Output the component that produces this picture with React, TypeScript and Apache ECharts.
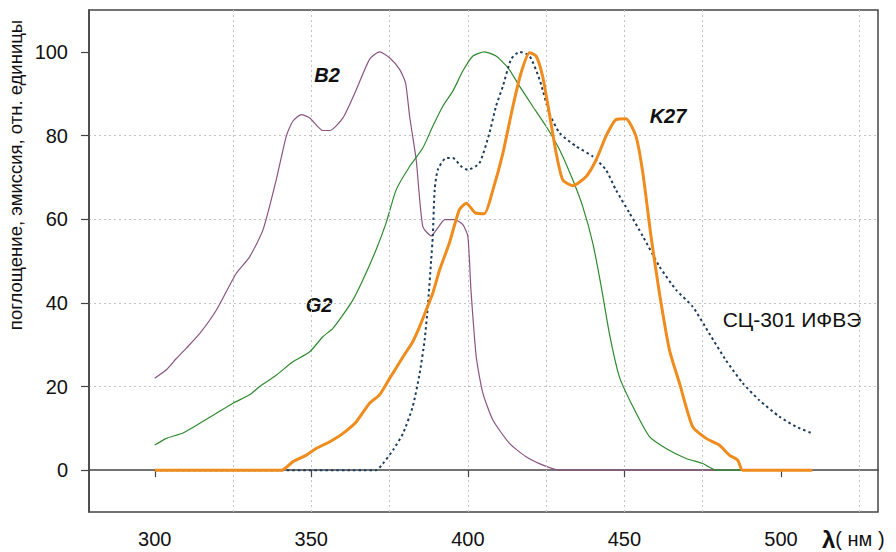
import React, { useEffect, useRef } from "react";
import * as echarts from "echarts";

// Wavelength axis ticks and labels (nm)
const xLabelTicks = [300, 350, 400, 450, 500];
// Intermediate wavelength grid lines (nm)
const xMidGrid = [325, 375, 425, 475, 525];
// Intensity axis ticks and labels (relative units)
const yLabelTicks = [0, 20, 40, 60, 80, 100];

// B2 absorption
const b2Lambda = [300, 303.7, 306.9, 310, 314.4, 319.7, 326, 330.3, 334.6, 338.8, 342, 344.1, 346.8, 349.5, 353.7, 355.9, 360.1, 364.4, 368.6, 371.8, 375, 378.2, 380.1, 381.4, 383.5, 385.6, 388.3, 390.4, 392.6, 395.7, 398.4, 400, 401, 402.7, 404.8, 408, 413.3, 418.6, 424, 429.3, 480];
const b2Values = [22, 24, 26.7, 29.1, 32.7, 38.3, 47, 51, 57.5, 69.4, 79.8, 83.4, 85, 84.2, 81.2, 81.2, 84.2, 91, 98.2, 100, 98.6, 95.8, 92.6, 84.6, 74.2, 58.3, 56, 57.9, 59.9, 59.9, 58.7, 55.9, 43, 27, 18.4, 12, 6.4, 3.2, 1.2, 0, 0];

// G2
const g2Lambda = [300, 303.7, 309, 314.4, 319.7, 325, 330.3, 333.5, 338.8, 344.1, 349.5, 353.7, 356.9, 360.1, 363.3, 366.5, 370.7, 373.9, 377.1, 381.4, 385.6, 388.8, 392, 395.2, 398.4, 401.6, 405.3, 409, 412.8, 416.5, 420.7, 425, 429.3, 433.5, 436.7, 439.9, 442.6, 445.2, 448.4, 452.7, 458, 463.3, 469.7, 475, 479.3, 488];
const g2Values = [6, 7.6, 8.9, 11.2, 13.6, 16, 18, 20, 22.7, 25.9, 28.3, 31.9, 33.9, 37.1, 40.7, 45.5, 52.7, 59.1, 67, 72.6, 77, 82.2, 87, 90.6, 95.4, 99, 100, 99, 96.2, 91.8, 87, 82.2, 76.6, 69.4, 63, 54.3, 43.9, 32.7, 22.3, 15.2, 8, 5.2, 2.8, 1.6, 0, 0];

// СЦ-301 ИФВЭ scintillator emission
const scLambda = [300, 370.7, 372.9, 376.1, 379.3, 382.4, 384.6, 386.2, 387.2, 388.3, 388.8, 389.4, 390.4, 393, 395.2, 397.9, 400, 403.7, 406.9, 409, 411.2, 413.8, 416.5, 419.7, 422.9, 426, 429.3, 434.6, 439.9, 444.1, 447.3, 451.6, 455.9, 461.2, 466.5, 471.8, 477.1, 482.4, 487.8, 493, 499.5, 504.8, 510];
const scValues = [0, 0, 1.6, 4.8, 8.8, 15.2, 23.1, 31.1, 39.1, 50.3, 55.9, 67, 71.8, 74.6, 74.6, 72.6, 71.8, 73.4, 80.6, 87, 91.8, 98.2, 100, 99, 93.4, 85.4, 80.6, 77.4, 75, 71.8, 67, 61.5, 55.9, 48.7, 43.1, 39.1, 32.7, 26.3, 20.8, 16.8, 12.8, 10.4, 8.8];

// K27
const k27Lambda = [300, 340.4, 344.1, 348.4, 351.6, 355.9, 360.1, 364.4, 368.6, 371.8, 375, 379.3, 382.4, 384.6, 386.7, 388.8, 391, 394.1, 397.3, 399.5, 402.4, 405.3, 408, 411.2, 414.4, 417, 419.7, 421.8, 423.9, 426, 428.2, 430.3, 433.5, 437.8, 441, 444.1, 447.3, 450.5, 453.7, 455.9, 458.5, 461.2, 464.4, 467.6, 471.8, 476.1, 480.3, 483.5, 486.2, 487.8, 510];
const k27Values = [0, 0, 2, 3.6, 5.2, 6.8, 8.8, 11.6, 16, 18, 21.9, 27.1, 30.7, 34.3, 38.3, 42.3, 47.9, 54.3, 62.3, 63.8, 61.5, 61.3, 67, 75.8, 87, 95, 99.8, 99, 94.1, 85.4, 75.8, 69.4, 68, 70.2, 74.2, 79.8, 83.8, 84, 79.8, 71, 55.9, 42.3, 28.7, 20.8, 10.4, 7.6, 6, 3.6, 2.4, 0, 0];

const zip = (xs: number[], ys: number[]) => xs.map((x, i) => [x, ys[i]]);

const FONT = "'Liberation Sans', Arial, sans-serif";
const GRID_STYLE = { color: "#c4c4c4", width: 1, type: [2, 3] };

export default function App() {
  const ref = useRef<HTMLDivElement>(null);

  useEffect(() => {
    if (!ref.current) return;
    const chart = echarts.init(ref.current, null, { renderer: "svg" });
    const gridLine = { show: true, showMinLine: false, showMaxLine: false, lineStyle: GRID_STYLE };
    chart.setOption({
      animation: false,
      backgroundColor: "#ffffff",
      grid: { left: 89, right: 18, top: 10, bottom: 40, show: true, borderColor: "#444", borderWidth: 1.5 },
      xAxis: {
        type: "value",
        min: 279,
        max: 531,
        minInterval: 50,
        maxInterval: 50,
        axisLine: { show: true, lineStyle: { color: "#444", width: 1.5 } },
        axisTick: { show: true, customValues: xLabelTicks, length: 7, lineStyle: { color: "#444", width: 1.2 } },
        axisLabel: { customValues: xLabelTicks, fontSize: 20, color: "#111", margin: 17, fontFamily: FONT },
        splitLine: gridLine,
      },
      yAxis: {
        type: "value",
        min: -10,
        max: 110,
        interval: 10,
        axisLine: { show: true, lineStyle: { color: "#444", width: 1.5 } },
        axisTick: { show: true, customValues: yLabelTicks, length: 8, lineStyle: { color: "#444", width: 1.2 } },
        axisLabel: { customValues: yLabelTicks, fontSize: 20, color: "#111", margin: 21, fontFamily: FONT },
        splitLine: gridLine,
      },
      series: [
        {
          name: "grid",
          type: "line",
          data: [],
          silent: true,
          z: 1,
          markLine: {
            silent: true,
            symbol: ["none", "none"],
            label: { show: false },
            lineStyle: GRID_STYLE,
            emphasis: { disabled: true },
            data: xMidGrid.map((v) => ({ xAxis: v })),
          },
        },
        {
          name: "B2",
          type: "line",
          data: zip(b2Lambda, b2Values),
          showSymbol: false,
          smooth: 0.2,
          lineStyle: { color: "#8a5580", width: 1.2 },
          z: 2,
        },
        {
          name: "G2",
          type: "line",
          data: zip(g2Lambda, g2Values),
          showSymbol: false,
          smooth: 0.2,
          lineStyle: { color: "#2f8a2f", width: 1.2 },
          z: 3,
        },
        {
          name: "СЦ-301 ИФВЭ",
          type: "line",
          data: zip(scLambda, scValues),
          showSymbol: false,
          smooth: 0.2,
          lineStyle: { color: "#1d3c5c", width: 2, type: [2.5, 3] },
          z: 4,
        },
        {
          name: "K27",
          type: "line",
          data: zip(k27Lambda, k27Values),
          showSymbol: false,
          smooth: 0.2,
          lineStyle: { color: "#f08c1e", width: 3 },
          z: 5,
        },
      ],
      graphic: [
        {
          type: "text",
          x: 15,
          y: 175,
          rotation: Math.PI / 2,
          style: { text: "поглощение, эмиссия, отн. единицы", font: `18.5px ${FONT}`, fill: "#111", textAlign: "center", textVerticalAlign: "middle" },
        },
        {
          type: "text",
          x: 327,
          y: 75,
          style: { text: "B2", font: `italic bold 20px ${FONT}`, fill: "#111", textAlign: "center", textVerticalAlign: "middle" },
        },
        {
          type: "text",
          x: 319,
          y: 305,
          style: { text: "G2", font: `italic bold 20px ${FONT}`, fill: "#111", textAlign: "center", textVerticalAlign: "middle" },
        },
        {
          type: "text",
          x: 668,
          y: 116,
          style: { text: "K27", font: `italic bold 20px ${FONT}`, fill: "#111", textAlign: "center", textVerticalAlign: "middle" },
        },
        {
          type: "text",
          x: 792,
          y: 319,
          style: { text: "СЦ-301 ИФВЭ", font: `21px ${FONT}`, fill: "#111", textAlign: "center", textVerticalAlign: "middle" },
        },
        {
          type: "text",
          x: 822,
          y: 539,
          style: {
            text: "{l|λ}{u|( нм )}",
            textVerticalAlign: "middle",
            rich: {
              l: { font: `bold 24px ${FONT}`, fill: "#111" },
              u: { font: `20px ${FONT}`, fill: "#111" },
            },
          },
        },
      ],
    });
    return () => chart.dispose();
  }, []);

  return <div ref={ref} style={{ position: "fixed", left: 0, top: 0, width: 896, height: 552 }} />;
}
